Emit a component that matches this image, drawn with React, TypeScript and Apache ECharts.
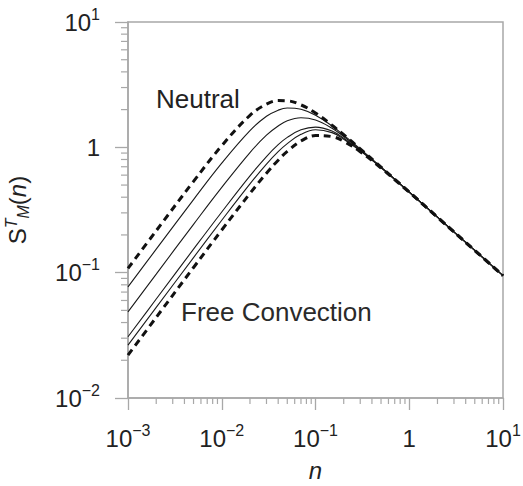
import React, { useEffect, useRef } from 'react';
import * as echarts from 'echarts';

// Frequency n (x) at which curves were read
const N = [0.001, 0.002, 0.005, 0.01, 0.02, 0.03, 0.04, 0.05, 0.07, 0.1, 0.15, 0.2, 0.3, 0.5, 1, 2, 5, 10];

// Spectra S^T_M(n)
const neutral = [0.108, 0.216, 0.535, 1.03, 1.8, 2.21, 2.36, 2.35, 2.18, 1.88, 1.5, 1.26, 0.974, 0.696, 0.44, 0.277, 0.1505, 0.0948];
const solid1 = [0.077, 0.154, 0.383, 0.748, 1.36, 1.77, 1.98, 2.06, 2.01, 1.8, 1.48, 1.25, 0.971, 0.695, 0.44, 0.277, 0.1505, 0.0948];
const solid2 = [0.0487, 0.0974, 0.243, 0.479, 0.909, 1.25, 1.48, 1.63, 1.72, 1.65, 1.42, 1.22, 0.96, 0.694, 0.4395, 0.277, 0.1505, 0.0948];
const solid3 = [0.0308, 0.0616, 0.154, 0.305, 0.592, 0.844, 1.05, 1.2, 1.38, 1.45, 1.35, 1.18, 0.945, 0.69, 0.439, 0.277, 0.1505, 0.0948];
const solid4 = [0.0264, 0.0528, 0.132, 0.262, 0.511, 0.735, 0.923, 1.07, 1.27, 1.38, 1.31, 1.16, 0.937, 0.688, 0.438, 0.2768, 0.1504, 0.0948];
const freeConvection = [0.022, 0.044, 0.11, 0.219, 0.429, 0.622, 0.79, 0.929, 1.122, 1.242, 1.218, 1.117, 0.923, 0.684, 0.438, 0.2768, 0.1504, 0.0948];

// Axis ranges and minor tick layout
const X_MIN = 0.001;
const X_MAX = 10;
const Y_MIN = 0.01;
const Y_MAX = 10;
const MINOR_MANTISSAS = [2, 3, 4, 5, 6, 7, 8, 9];
const X_DECADES = [0.001, 0.01, 0.1, 1];
const Y_DECADES = [0.01, 0.1, 1];

const AXIS_COLOR = '#a8a8a8';
const TEXT_COLOR = '#222';
const FONT = '"Liberation Sans", Arial, Helvetica, sans-serif';

const xMinor: number[] = [];
X_DECADES.forEach((d) => MINOR_MANTISSAS.forEach((m) => xMinor.push(+(d * m).toPrecision(6))));
const yMinor: number[] = [];
Y_DECADES.forEach((d) => MINOR_MANTISSAS.forEach((m) => yMinor.push(+(d * m).toPrecision(6))));

const fmt = (v: number) => {
  const e = Math.round(Math.log10(v));
  if (e === 0) return '{b|1}';
  return '{b|10}{s|' + (e < 0 ? '\u2212' + -e : String(e)) + '}';
};

const labelRich = {
  b: { fontSize: 24, lineHeight: 32, fontFamily: FONT, color: TEXT_COLOR, verticalAlign: 'middle' },
  s: { fontSize: 16, lineHeight: 12, fontFamily: FONT, color: TEXT_COLOR, verticalAlign: 'top' },
};

export default function App() {
  const ref = useRef<HTMLDivElement>(null);
  useEffect(() => {
    if (!ref.current) return;
    const chart = echarts.init(ref.current, undefined, { renderer: 'svg' });
    const mk = (d: number[]) => N.map((n, i) => [n, d[i]]);
    const solidStyle = { color: '#1a1a1a', width: 1.1 };
    const dashStyle = { color: '#111', width: 3, type: [7, 5] as number[] };
    const lineSeries = (name: string, d: number[], style: any, z: number) => ({
      name,
      type: 'line',
      data: mk(d),
      showSymbol: false,
      smooth: 0.4,
      lineStyle: style,
      z,
      silent: true,
    });
    chart.setOption({
      animation: false,
      backgroundColor: '#fff',
      grid: {
        left: 128,
        right: 20,
        top: 22,
        bottom: 88,
        outerBoundsMode: 'none',
        containLabel: false,
        show: true,
        borderColor: AXIS_COLOR,
        borderWidth: 1.5,
        backgroundColor: 'transparent',
      },
      xAxis: {
        type: 'log',
        logBase: 10,
        min: X_MIN,
        max: X_MAX,
        name: 'n',
        nameLocation: 'middle',
        nameGap: 60,
        nameTextStyle: { fontSize: 24, lineHeight: 24, fontStyle: 'italic', fontFamily: FONT, color: TEXT_COLOR },
        axisLine: { show: true, lineStyle: { color: AXIS_COLOR, width: 1.5 } },
        axisTick: { show: true, inside: false, length: 12, lineStyle: { color: AXIS_COLOR, width: 1.3 } },
        minorTick: { show: false },
        splitLine: { show: false },
        axisLabel: { formatter: fmt, rich: labelRich, margin: 24, showMinLabel: true, showMaxLabel: true },
      },
      yAxis: {
        type: 'log',
        logBase: 10,
        min: Y_MIN,
        max: Y_MAX,
        name: '{b|S}{sup|T}{sub|M}{b|(}{it|n}{b|)}',
        nameLocation: 'middle',
        nameGap: 97,
        nameRotate: 90,
        nameTextStyle: {
          rich: {
            b: { fontSize: 24, lineHeight: 28, fontFamily: FONT, color: TEXT_COLOR, verticalAlign: 'middle' },
            it: { fontSize: 24, lineHeight: 28, fontFamily: FONT, fontStyle: 'italic', color: TEXT_COLOR, verticalAlign: 'middle' },
            sup: { fontSize: 16, lineHeight: 10, fontFamily: FONT, fontStyle: 'italic', color: TEXT_COLOR, verticalAlign: 'top' },
            sub: { fontSize: 16, lineHeight: 10, fontFamily: FONT, fontStyle: 'italic', color: TEXT_COLOR, verticalAlign: 'bottom' },
          },
        },
        axisLine: { show: true, lineStyle: { color: AXIS_COLOR, width: 1.5 } },
        axisTick: { show: true, inside: false, length: 13, lineStyle: { color: AXIS_COLOR, width: 1.3 } },
        minorTick: { show: false },
        splitLine: { show: false },
        axisLabel: { formatter: fmt, rich: labelRich, margin: 28, showMinLabel: true, showMaxLabel: true },
      },
      graphic: [
        { type: 'text', left: 156, top: 86, style: { text: 'Neutral', font: '26px ' + FONT, fill: TEXT_COLOR } },
        { type: 'text', left: 181, top: 299, style: { text: 'Free Convection', font: '26px ' + FONT, fill: '#2a2a2a' } },
      ],
      series: [
        {
          type: 'custom',
          silent: true,
          clip: false,
          data: xMinor.map((v) => [v, Y_MIN]),
          renderItem: (_p: any, api: any) => {
            const p = api.coord([api.value(0), api.value(1)]);
            return { type: 'line', shape: { x1: p[0], y1: p[1], x2: p[0], y2: p[1] + 6 }, style: { stroke: AXIS_COLOR, lineWidth: 1.2 } };
          },
          z: 1,
        },
        {
          type: 'custom',
          silent: true,
          clip: false,
          data: yMinor.map((v) => [X_MIN, v]),
          renderItem: (_p: any, api: any) => {
            const p = api.coord([api.value(0), api.value(1)]);
            return { type: 'line', shape: { x1: p[0] - 7, y1: p[1], x2: p[0], y2: p[1] }, style: { stroke: AXIS_COLOR, lineWidth: 1.2 } };
          },
          z: 1,
        },
        lineSeries('solid1', solid1, solidStyle, 3),
        lineSeries('solid2', solid2, solidStyle, 3),
        lineSeries('solid3', solid3, solidStyle, 3),
        lineSeries('solid4', solid4, solidStyle, 3),
        lineSeries('Neutral', neutral, dashStyle, 4),
        lineSeries('Free Convection', freeConvection, dashStyle, 4),
      ],
    });
    return () => chart.dispose();
  }, []);
  return <div ref={ref} style={{ position: 'fixed', left: 0, top: 0, width: 523, height: 486, background: '#fff' }} />;
}
